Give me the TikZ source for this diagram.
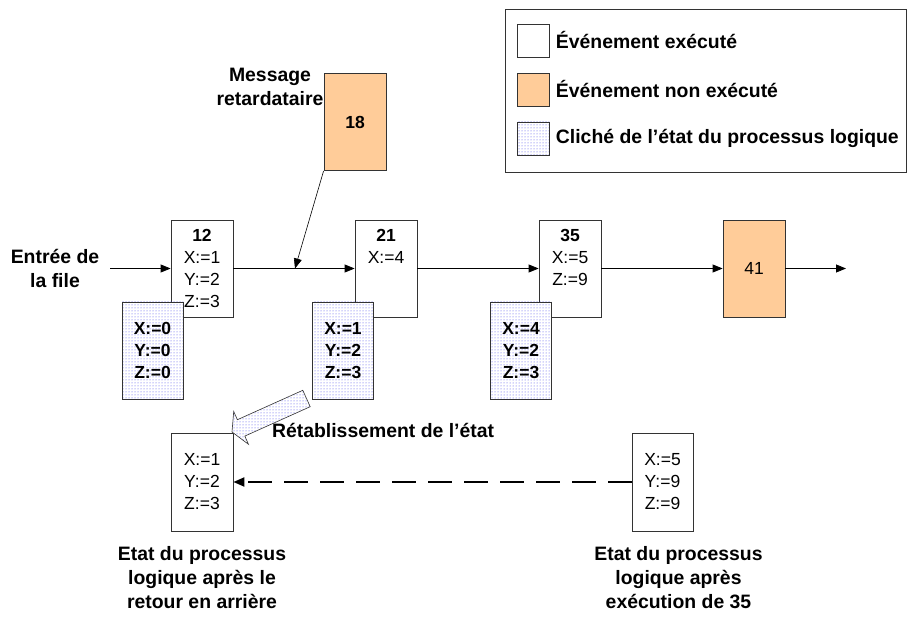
\documentclass[tikz,border=0pt]{standalone}
\usepackage{fontspec}
\setmainfont{Liberation Sans}
\usetikzlibrary{arrows.meta,positioning,patterns}

\definecolor{nonexec}{RGB}{255,204,153}
\definecolor{dotblue}{RGB}{70,70,235}
\newcommand{\valfont}{\fontsize{17.5}{22}\selectfont}
\newcommand{\lblfont}{\fontsize{19.4}{24}\selectfont\bfseries}

\tikzset{
  frame/.style={draw=black!80, line width=0.8pt},
  evt/.style={frame, fill=white, minimum width=62pt, minimum height=97pt, inner sep=0pt},
  pending/.style={evt, fill=nonexec},
  cliche/.style={frame, minimum width=61pt, minimum height=97pt, inner sep=0pt,
    preaction={fill=white}, pattern=dots, pattern color=dotblue,
    font=\valfont\bfseries, align=center},
  vals/.style={font=\valfont, align=center, inner sep=0pt},
  lbl/.style={font=\lblfont, align=center},
  flow/.style={line width=0.8pt, -{Triangle[length=10pt,width=8pt]}},
  back/.style={line width=2pt, dash pattern=on 24pt off 12pt, -{Triangle[length=11pt,width=9pt]}},
}

\begin{document}
\begin{tikzpicture}[x=1pt,y=-1pt]
  \useasboundingbox (0,0) rectangle (907,617);

  % legend
  \node[frame, minimum width=401pt, minimum height=163pt] (legend) at (705.5,90.5) {};
  \node[evt, minimum width=32pt, minimum height=33pt] (key1) at (533,40.5) {};
  \node[pending, minimum width=32pt, minimum height=33pt] (key2) at (533,89.5) {};
  \node[cliche, minimum width=32pt, minimum height=33pt] (key3) at (533,138.5) {};
  \node[lbl, right=3pt of key1] (key1t) {Événement exécuté};
  \node[lbl, right=3pt of key2] (key2t) {Événement non exécuté};
  \node[lbl, right=3pt of key3] (key3t) {Cliché de l’état du processus logique};

  % file des evenements
  \node[evt] (e12) at (202,268.5) {};
  \node[evt] (e21) at (386,268.5) {};
  \node[evt] (e35) at (570,268.5) {};
  \node[pending, font=\valfont] (e41) at (754,268.5) {41};
  \node[vals, below=9.5pt of e12.north] (e12v) {\textbf{12}\\X:=1\\Y:=2\\Z:=3};
  \node[vals, below=9.5pt of e21.north] (e21v) {\textbf{21}\\X:=4};
  \node[vals, below=9.5pt of e35.north] (e35v) {\textbf{35}\\X:=5\\Z:=9};

  \node[lbl] (entree) at (55,268) {Entrée de\\la file};
  \coordinate (qin) at (110,268.5);
  \coordinate (qout) at (846,268.5);
  \draw[flow] (qin) -- (e12);
  \draw[flow] (e12) -- (e21);
  \draw[flow] (e21) -- (e35);
  \draw[flow] (e35) -- (e41);
  \draw[flow] (e41) -- (qout);

  % message retardataire
  \node[pending, font=\valfont\bfseries] (m18) at (355,122) {18};
  \node[lbl] (m18lbl) at (270,86.5) {Message\\retardataire};
  \coordinate (hit) at (295,268.5);
  \draw[flow, line width=0.6pt] (m18.south west) -- (hit);

  % cliches
  \node[cliche] (s12) at (152.5,350.5) {X:=0\\Y:=0\\Z:=0};
  \node[cliche] (s21) at (343,350.5) {X:=1\\Y:=2\\Z:=3};
  \node[cliche] (s35) at (521,350.5) {X:=4\\Y:=2\\Z:=3};

  % etats du processus
  \node[evt, minimum height=98pt, font=\valfont, align=center] (st1) at (202,482) {X:=1\\Y:=2\\Z:=3};
  \node[evt, minimum width=61pt, minimum height=98pt, font=\valfont, align=center] (st2) at (662.5,482) {X:=5\\Y:=9\\Z:=9};
  \draw[back] (st2) -- (st1);
  \node[lbl, below=12pt of st1] (st1lbl) {Etat du processus\\logique après le\\retour en arrière};
  \node[lbl, below=12pt of st2, xshift=16pt] (st2lbl) {Etat du processus\\logique après\\exécution de 35};

  % retablissement
  \draw[frame, line width=0.6pt, preaction={fill=white}, pattern=dots, pattern color=dotblue]
    (302.8,390.3) -- (237.4,419.7) -- (233.7,411.5) -- (232,432)
    -- (248.5,444.3) -- (244.8,436.1) -- (310.2,406.7) -- cycle;
  \node[lbl, anchor=west] (restore) at (268.5,430) {Rétablissement de l’état};
\end{tikzpicture}
\end{document}
